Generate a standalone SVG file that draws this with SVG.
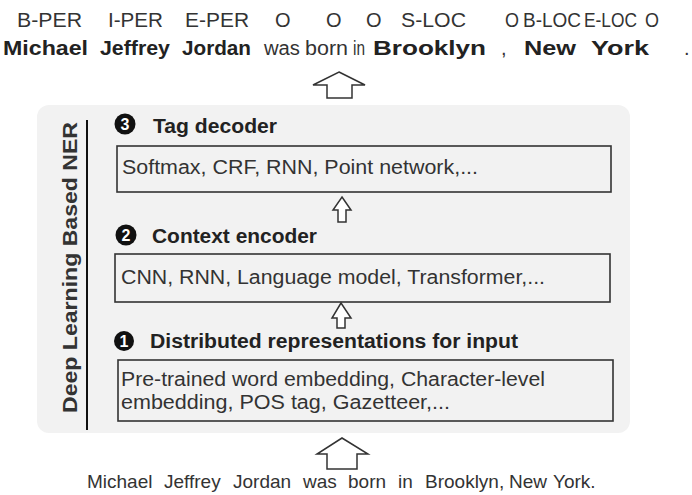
<svg xmlns="http://www.w3.org/2000/svg" width="692" height="495" viewBox="0 0 692 495">
<defs>
<style>
.t{font-family:"Liberation Sans",Arial,sans-serif;fill:#333;}
.tag{font-size:20px;}
.w{font-size:20px;font-weight:bold;fill:#222;}
.wr{font-size:20px;fill:#333;}
.title{font-size:19.5px;font-weight:bold;fill:#222;}
.body{font-size:20px;fill:#333;}
.box{fill:none;stroke:#333;stroke-width:1.6;}
.arrow{fill:#fff;stroke:#333;stroke-width:1.5;stroke-linejoin:miter;}
.num{font-family:"Liberation Sans",Arial,sans-serif;font-size:16px;font-weight:bold;fill:#fff;text-anchor:middle;}
</style>
</defs>
<rect width="692" height="495" fill="#fff"/>

<g id="output-tags">
<text class="t tag" x="17" y="27" textLength="65" lengthAdjust="spacingAndGlyphs">B-PER</text>
<text class="t tag" x="108" y="27" textLength="55" lengthAdjust="spacingAndGlyphs">I-PER</text>
<text class="t tag" x="185" y="27" textLength="64" lengthAdjust="spacingAndGlyphs">E-PER</text>
<text class="t tag" x="275" y="27">O</text>
<text class="t tag" x="326" y="27">O</text>
<text class="t tag" x="366" y="27">O</text>
<text class="t tag" x="401" y="27" textLength="65" lengthAdjust="spacingAndGlyphs">S-LOC</text>
<text class="t tag" x="505" y="27" textLength="14" lengthAdjust="spacingAndGlyphs">O</text>
<text class="t tag" x="523" y="27" textLength="58" lengthAdjust="spacingAndGlyphs">B-LOC</text>
<text class="t tag" x="584" y="27" textLength="53" lengthAdjust="spacingAndGlyphs">E-LOC</text>
<text class="t tag" x="645" y="27" textLength="14" lengthAdjust="spacingAndGlyphs">O</text>
</g>

<g id="output-words">
<text class="t w" x="3" y="55" textLength="85" lengthAdjust="spacingAndGlyphs">Michael</text>
<text class="t w" x="100" y="55" textLength="70" lengthAdjust="spacingAndGlyphs">Jeffrey</text>
<text class="t w" x="182" y="55" textLength="69" lengthAdjust="spacingAndGlyphs">Jordan</text>
<text class="t wr" x="264" y="55" textLength="36" lengthAdjust="spacingAndGlyphs">was</text>
<text class="t wr" x="305" y="55" textLength="43" lengthAdjust="spacingAndGlyphs">born</text>
<text class="t wr" x="353" y="55" textLength="12" lengthAdjust="spacingAndGlyphs">in</text>
<text class="t w" x="373" y="55" textLength="113" lengthAdjust="spacingAndGlyphs">Brooklyn</text>
<text class="t wr" x="501" y="55">,</text>
<text class="t w" x="524" y="55" textLength="52" lengthAdjust="spacingAndGlyphs">New</text>
<text class="t w" x="591" y="55" textLength="58" lengthAdjust="spacingAndGlyphs">York</text>
<text class="t wr" x="684" y="55">.</text>
</g>

<g id="panel">
<rect x="37" y="105" width="593" height="328" rx="12" fill="#f2f2f2"/>
<line x1="87" y1="120" x2="87" y2="430" stroke="#111" stroke-width="2"/>
<text class="t" transform="translate(77,267.5) rotate(-90)" text-anchor="middle" font-size="21" font-weight="bold" fill="#222" textLength="291" lengthAdjust="spacingAndGlyphs">Deep Learning Based NER</text>
</g>

<g id="tag-decoder">
<circle cx="125" cy="124" r="10.5" fill="#111"/>
<text class="num" x="125" y="129.5">3</text>
<text class="t title" x="153" y="133" textLength="124" lengthAdjust="spacingAndGlyphs">Tag decoder</text>
<rect class="box" x="117" y="146" width="494" height="46"/>
<text class="t body" x="122" y="174" textLength="356" lengthAdjust="spacingAndGlyphs">Softmax, CRF, RNN, Point network,...</text>
</g>

<g id="context-encoder">
<circle cx="126" cy="235" r="10.5" fill="#111"/>
<text class="num" x="126" y="240.5">2</text>
<text class="t title" x="152" y="243" textLength="165" lengthAdjust="spacingAndGlyphs">Context encoder</text>
<rect class="box" x="115" y="254" width="495" height="48"/>
<text class="t body" x="121" y="284" textLength="424" lengthAdjust="spacingAndGlyphs">CNN, RNN, Language model, Transformer,...</text>
</g>

<g id="distributed-representations">
<circle cx="124" cy="341" r="10" fill="#111"/>
<text class="num" x="124" y="346.5">1</text>
<text class="t title" x="150" y="348" textLength="368" lengthAdjust="spacingAndGlyphs">Distributed representations for input</text>
<rect class="box" x="118" y="360" width="495" height="61"/>
<text class="t body" x="121" y="386" textLength="424" lengthAdjust="spacingAndGlyphs">Pre-trained word embedding, Character-level</text>
<text class="t body" x="121" y="409" textLength="329" lengthAdjust="spacingAndGlyphs">embedding, POS tag, Gazetteer,...</text>
</g>

<g id="input-sentence">
<text class="t" font-size="19" fill="#333" y="488"><tspan x="87">Michael</tspan><tspan x="164">Jeffrey</tspan><tspan x="233">Jordan</tspan><tspan x="303">was</tspan><tspan x="348">born</tspan><tspan x="398">in</tspan><tspan x="425">Brooklyn,</tspan><tspan x="509">New</tspan><tspan x="553">York.</tspan></text>
</g>

<g id="connectors">
<polygon class="arrow" points="339,72 365,85 352,85 352,98 327,98 327,85 313,85"/>
<polygon class="arrow" points="342,197 351,210 346,210 346,222 338,222 338,210 333,210"/>
<polygon class="arrow" points="341,303 351,318 345,318 345,328 337,328 337,318 332,318"/>
<polygon class="arrow" points="342,438 368,454 357,454 357,469 327,469 327,454 317,454"/>
</g>
</svg>
